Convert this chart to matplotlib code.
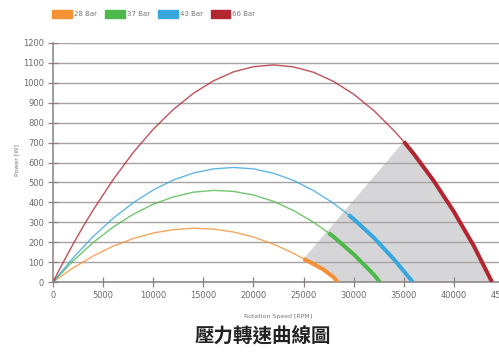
import matplotlib.pyplot as plt
from matplotlib.patches import Patch

rpm_28 = [0, 2000, 4000, 6000, 8000, 10000, 12000, 14000, 16000, 18000, 20000,
          22000, 24000, 25000, 26000, 27000, 28000, 28400]
pw_28 = [0, 71, 130, 180, 218, 246, 263, 270, 266, 251, 226,
         190, 144, 116, 90, 62, 24, 0]

rpm_37 = [0, 2000, 4000, 6000, 8000, 10000, 12000, 14000, 16000, 18000, 20000,
          22000, 24000, 26000, 27500, 28000, 30000, 32000, 32600]
pw_37 = [0, 106, 198, 276, 340, 391, 427, 451, 460, 455, 437,
         405, 359, 300, 246, 227, 139, 38, 0]

rpm_43 = [0, 2000, 4000, 6000, 8000, 10000, 12000, 14000, 16000, 18000, 20000,
          22000, 24000, 26000, 28000, 29500, 30000, 32000, 34000, 35900]
pw_43 = [0, 121, 228, 320, 398, 462, 512, 547, 568, 575, 568,
         546, 510, 459, 395, 337, 316, 223, 115, 0]

rpm_66 = [0, 1000, 2000, 3000, 4000, 6000, 8000, 10000, 12000, 14000, 16000, 18000, 20000,
          22000, 24000, 26000, 28000, 30000, 32000, 34000, 35000, 36000, 38000,
          40000, 42000, 43800]
pw_66 = [0, 97, 190, 278, 361, 514, 650, 767, 866, 947, 1010, 1055, 1081,
         1090, 1080, 1053, 1007, 943, 861, 761, 705, 643, 507,
         353, 180, 0]

labels = ['28 Bar', '37 Bar', '43 Bar', '66 Bar']
colors = ['#f39134', '#4db94b', '#37a7de', '#b3262f']
thick_from = [25000, 27500, 29500, 35000]  # start of the bold part of each curve

series = [(rpm_28, pw_28), (rpm_37, pw_37), (rpm_43, pw_43), (rpm_66, pw_66)]

fig = plt.figure(figsize=(4.99, 3.53), dpi=100)
ax = fig.add_axes([53 / 499, 71 / 353, 451 / 499, 239 / 353])

# gray operating area: bounded by 28 bar curve, x axis and 66 bar curve
ox = [x for x in rpm_28 if x >= thick_from[0]]
oy = [y for x, y in zip(rpm_28, pw_28) if x >= thick_from[0]]
rx = [x for x in rpm_66 if x >= thick_from[3]][::-1]
ry = [y for x, y in zip(rpm_66, pw_66) if x >= thick_from[3]][::-1]
ax.fill(ox + rx, oy + ry, color='#d6d6d8', lw=0, zorder=0.3)

for (x, y), c, t0 in zip(series, colors, thick_from):
    ax.plot(x, y, color=c, lw=1.0, alpha=0.8, zorder=2)
    tx = [a for a in x if a >= t0]
    ty = [b for a, b in zip(x, y) if a >= t0]
    ax.plot(tx, ty, color=c, lw=2.9, solid_capstyle='butt', zorder=3)

ax.set_xlim(0, 45000)
ax.set_ylim(0, 1200)
ax.set_xticks(range(0, 45001, 5000))
ax.set_yticks(range(0, 1201, 100))
ax.set_axisbelow(True)
ax.grid(axis='y', color='#a8a2a2', lw=1.0)
for s in ['top', 'right']:
    ax.spines[s].set_visible(False)
for s in ['left', 'bottom']:
    ax.spines[s].set_color('#8c8282')
    ax.spines[s].set_linewidth(1.1)
ax.tick_params(direction='inout', length=7, width=0.9, color='#8c8282',
               labelsize=6, labelcolor='#6a6a6a', pad=3)
for lab in ax.get_xticklabels() + ax.get_yticklabels():
    lab.set_family('Liberation Sans Narrow')

ax.set_xlabel('Rotation Speed [RPM]', fontsize=4.5, color='#777777', labelpad=10)
fig.text(17 / 499, 1 - 160 / 353, 'Power [W]', rotation=90, ha='center', va='center',
         fontsize=4.5, color='#777777')

handles = [Patch(color=c) for c in colors]
fig.legend(handles, labels, loc='upper left', bbox_to_anchor=(46 / 499, 1 - 4 / 353),
           ncol=4, frameon=False, fontsize=5, handlelength=2.8, handleheight=1.3,
           handletextpad=0.3, columnspacing=1.2, labelcolor='#777777')

fig.text(263 / 499, 1 - 337 / 353, '壓力轉速曲線圖', ha='center', va='center',
         fontsize=14, fontweight='bold', family=['Noto Sans CJK TC', 'DejaVu Sans'],
         color='#222222')

fig.savefig('out.png', dpi=100)
